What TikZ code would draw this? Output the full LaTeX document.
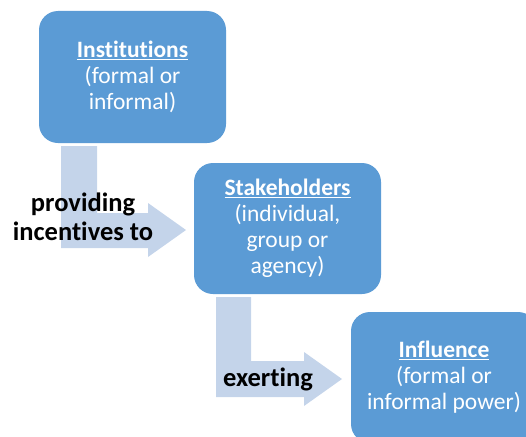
\documentclass[tikz,border=0pt]{standalone}
\usepackage{fontspec}
\setmainfont{Carlito}[Ligatures=NoCommon]
\definecolor{boxblue}{HTML}{5B9BD5}
\definecolor{arrowblue}{HTML}{C4D4EA}
\begin{document}
\begin{tikzpicture}[x=1pt,y=-1pt,
  box/.style={fill=boxblue, rounded corners=19pt, inner sep=0pt, text=white, align=center, font=\fontsize{23.5}{26}\selectfont},
  blockarrow/.style={fill=arrowblue, draw=none},
  lbl/.style={font=\fontsize{26.5}{29}\selectfont\bfseries, text=black, align=center, inner sep=0pt}]
\useasboundingbox (0,0) rectangle (526,436);
\begin{scope}
\clip (0,0) rectangle (526,436);
% boxes
\node[box, minimum width=187pt, minimum height=132pt] (inst) at (132.5,77)
  {\textbf{\underline{Institutions}}\\(formal or\\informal)};
\node[box, minimum width=187pt, minimum height=131pt] (stak) at (287.5,228.5)
  {\textbf{\underline{Stakeholders}}\\(individual,\\group or\\agency)};
\node[box, minimum width=186pt, minimum height=131pt] (infl) at (444,377.5)
  {\textbf{\underline{Influence}}\\(formal or\\informal power)};
% bent block arrows
\fill[blockarrow] (61,146) -- (97,146) -- (97,213) -- (148,213) -- (148,203) -- (186,230)
  -- (148,257) -- (148,248) -- (61,248) -- cycle;
\fill[blockarrow] (216,297) -- (251,297) -- (251,361) -- (304,361) -- (304,352) -- (342,379)
  -- (304,406) -- (304,397) -- (216,397) -- cycle;
% labels
\node[lbl] (l1) at (83,216.5) {providing\\incentives to};
\node[lbl] (l2) at (268,379) {exerting};
\end{scope}
\end{tikzpicture}
\end{document}
